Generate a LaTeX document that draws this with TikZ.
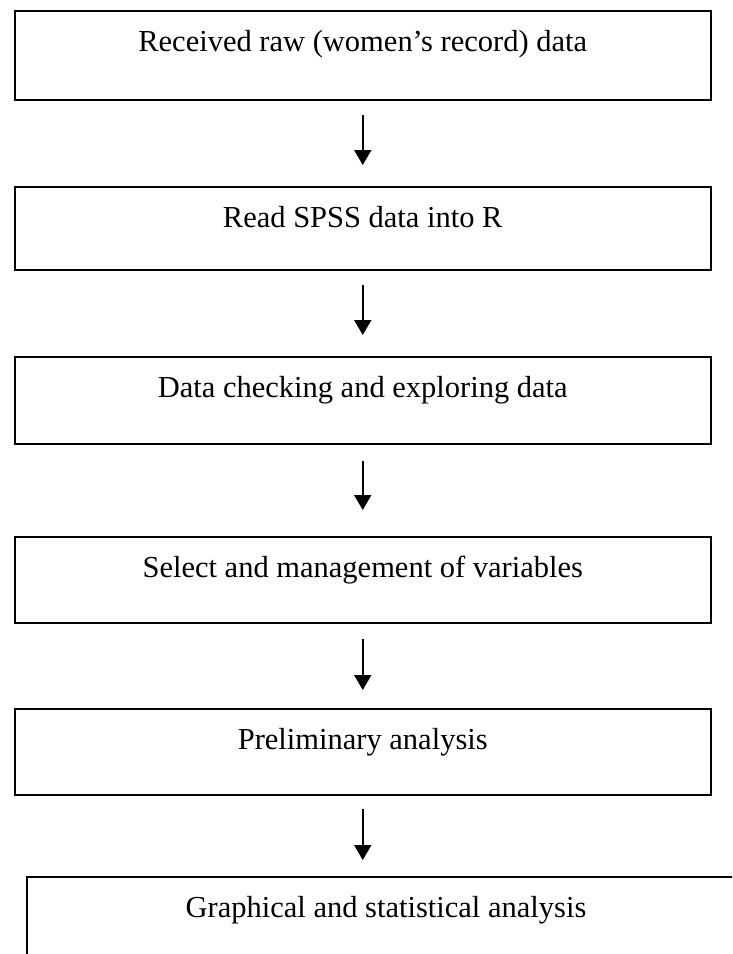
\documentclass[tikz,border=0pt]{standalone}
\usepackage{fontspec}
\setmainfont{Liberation Serif}
\usetikzlibrary{arrows.meta}
\begin{document}
\begin{tikzpicture}[x=1pt,y=-1pt,
  box/.style={draw, line width=2pt, inner sep=0pt, minimum width=695.5pt,
    text height=40pt, anchor=north west, font=\fontsize{30.5}{36}\selectfont},
  arr/.style={line width=2pt, -{Triangle[width=17pt,length=15pt]}}]
\clip (0,0) rectangle (732,954);
\fill[white] (0,0) rectangle (732,954);
\node[box, text depth=49pt] (b1) at (14,10) {Received raw (women’s record) data};
\node[box, text depth=43pt] (b2) at (14,186) {Read SPSS data into R};
\node[box, text depth=47pt] (b3) at (14,356) {Data checking and exploring data};
\node[box, text depth=46pt] (b4) at (14,536) {Select and management of variables};
\node[box, text depth=46pt] (b5) at (14,708) {Preliminary analysis};
\node[box, text depth=110pt, minimum width=718pt] (b6) at (26,876) {Graphical and statistical analysis};
\draw[arr, shorten <=14pt, shorten >=21pt] (b1.south) -- (b2.north);
\draw[arr, shorten <=14pt, shorten >=21pt] (b2.south) -- (b3.north);
\draw[arr, shorten <=16pt, shorten >=26pt] (b3.south) -- (b4.north);
\draw[arr, shorten <=15pt, shorten >=18pt] (b4.south) -- (b5.north);
\draw[arr, shorten <=13pt, shorten >=16pt] (b5.south) -- (b6.north -| b5.south);
\end{tikzpicture}
\end{document}
